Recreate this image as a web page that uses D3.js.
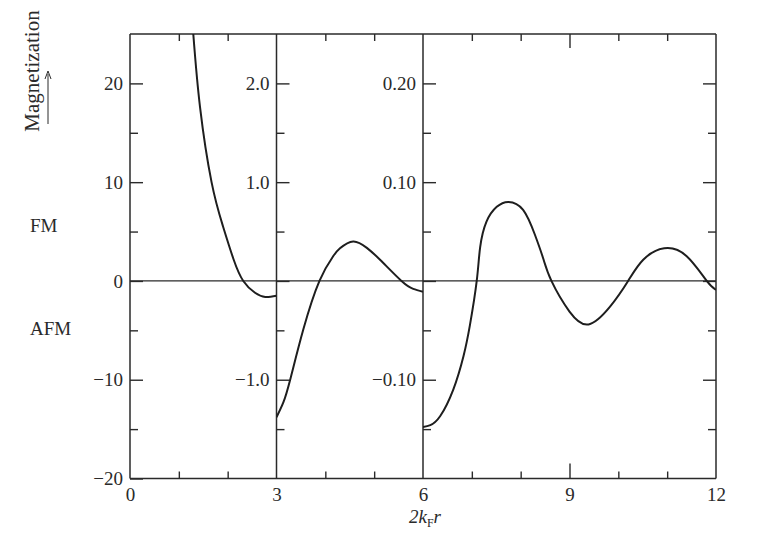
<!DOCTYPE html>
<html>
<head>
<meta charset="utf-8">
<script src="https://cdn.jsdelivr.net/npm/d3@7"></script>
<style>
  html, body { margin: 0; padding: 0; background: #fff; }
  svg { display: block; }
  text { font-family: "Liberation Serif", "Times New Roman", serif; fill: #2a2a2a; }
</style>
</head>
<body>
<svg id="chart" width="768" height="538"></svg>
<script>
// ---- data ----
// panel 1: 0 <= 2kFr <= 3, units of the left scale
const leftCurve = [[1.296, 25], [1.434, 17.6], [1.67, 10.0], [1.90, 5.6],
  [2.12, 2.2], [2.32, 0], [2.56, -1.2], [2.77, -1.62], [3.0, -1.49]];
// panel 2: 3 <= 2kFr <= 6, units of the middle scale
const midCurve = [[3.0, -1.38], [3.14, -1.23], [3.28, -1.0], [3.55, -0.49], [3.88, 0], [4.16, 0.25],
  [4.30, 0.33], [4.57, 0.40], [4.85, 0.335], [5.12, 0.215], [5.56, 0], [5.80, -0.08], [6.0, -0.11]];
// panel 3: 6 <= 2kFr <= 12, units of the right scale
const rightCurve = [[6.0, -0.148], [6.15, -0.146], [6.35, -0.137], [6.62, -0.110], [6.83, -0.076],
  [6.96, -0.045], [7.10, 0], [7.17, 0.034], [7.30, 0.060], [7.51, 0.075], [7.75, 0.080], [8.05, 0.072],
  [8.29, 0.047], [8.46, 0.023], [8.63, 0], [9.0, -0.031], [9.39, -0.044], [9.83, -0.026], [10.2, 0],
  [10.51, 0.0215], [10.94, 0.033], [11.4, 0.025], [11.81, 0], [12.0, -0.009]];

const xTickValues = [0, 3, 6, 9, 12];
const xTickLabels = ["0", "3", "6", "9", "12"];
const xMinorTicks = [1, 2, 4, 5, 7, 8, 10, 11];

const leftTickValues = [20, 10, 0, -10, -20];
const leftTickLabels = ["20", "10", "0", "\u221210", "\u221220"];
const leftMinor = [15, 5, -5, -15];

const midTickValues = [2.0, 1.0, 0, -1.0];
const midTickLabels = ["2.0", "1.0", "", "\u22121.0"];
const midMinor = [1.5, 0.5, -0.5, -1.5];

const rightTickValues = [0.20, 0.10, 0, -0.10];
const rightTickLabels = ["0.20", "0.10", "", "\u22120.10"];
const rightMinor = [0.15, 0.05, -0.05, -0.15];

const panelBreaks = [0, 3, 6, 12];

// ---- layout ----
const svg = d3.select("#chart");
const plotTop = 34, plotBottom = 478.5;
const x = d3.scaleLinear().domain([0, 12]).range([130, 716]);
const yLeft = d3.scaleLinear().domain([-20, 25]).range([plotBottom, plotTop]);
const yMid = d3.scaleLinear().domain([-2, 2.5]).range([plotBottom, plotTop]);
const yRight = d3.scaleLinear().domain([-0.2, 0.25]).range([plotBottom, plotTop]);

const ink = "#2a2a2a";
const majorLen = 13, minorLen = 8;

function styleAxis(g) {
  g.select(".domain").remove();
  g.selectAll(".tick line").attr("stroke", ink).attr("stroke-width", 1.4);
  g.selectAll(".tick text").attr("font-family", "Liberation Serif").attr("font-size", 19).attr("fill", ink);
}

// clip paths per panel
const defs = svg.append("defs");
[[0, 3], [3, 6], [6, 12]].forEach((p, i) => {
  defs.append("clipPath").attr("id", "clip" + i).append("rect")
    .attr("x", x(p[0])).attr("y", plotTop).attr("width", x(p[1]) - x(p[0])).attr("height", plotBottom - plotTop);
});

// y axes (ticks pointing inward, labels to the left)
const panels = [
  { x0: 0, y: yLeft, major: leftTickValues, labels: leftTickLabels, minor: leftMinor },
  { x0: 3, y: yMid, major: midTickValues, labels: midTickLabels, minor: midMinor },
  { x0: 6, y: yRight, major: rightTickValues, labels: rightTickLabels, minor: rightMinor }
];
panels.forEach(p => {
  svg.append("g").attr("transform", `translate(${x(p.x0)},0)`)
    .call(d3.axisLeft(p.y).tickValues(p.major).tickSize(-majorLen).tickPadding(7)
      .tickFormat((d, i) => p.labels[i]))
    .call(styleAxis);
  svg.append("g").attr("transform", `translate(${x(p.x0)},0)`)
    .call(d3.axisLeft(p.y).tickValues(p.minor).tickSize(-minorLen).tickFormat(""))
    .call(styleAxis);
});
// right edge ticks (pointing inward)
svg.append("g").attr("transform", `translate(${x(12)},0)`)
  .call(d3.axisRight(yRight).tickValues(rightTickValues).tickSize(-majorLen).tickFormat(""))
  .call(styleAxis);
svg.append("g").attr("transform", `translate(${x(12)},0)`)
  .call(d3.axisRight(yRight).tickValues(rightMinor).tickSize(-minorLen).tickFormat(""))
  .call(styleAxis);

// bottom axis labels + inward ticks
svg.append("g").attr("transform", `translate(0,${plotBottom})`)
  .call(d3.axisBottom(x).tickValues(xTickValues).tickSize(0).tickPadding(9)
    .tickFormat((d, i) => xTickLabels[i]))
  .call(styleAxis);
svg.append("g").attr("transform", `translate(0,${plotBottom})`)
  .call(d3.axisBottom(x).tickValues(xMinorTicks).tickSize(-7).tickFormat(""))
  .call(styleAxis);
svg.append("g").attr("transform", `translate(0,${plotBottom})`)
  .call(d3.axisBottom(x).tickValues([9]).tickSize(-15).tickFormat(""))
  .call(styleAxis);
// top inward ticks
svg.append("g").attr("transform", `translate(0,${plotTop})`)
  .call(d3.axisTop(x).tickValues(xMinorTicks).tickSize(-7).tickFormat(""))
  .call(styleAxis);
svg.append("g").attr("transform", `translate(0,${plotTop})`)
  .call(d3.axisTop(x).tickValues([9]).tickSize(-14).tickFormat(""))
  .call(styleAxis);

// frame
svg.append("line").attr("x1", x(0)).attr("x2", x(12)).attr("y1", plotTop).attr("y2", plotTop)
  .attr("stroke", ink).attr("stroke-width", 1.5);
svg.append("line").attr("x1", x(0)).attr("x2", x(12)).attr("y1", plotBottom).attr("y2", plotBottom)
  .attr("stroke", ink).attr("stroke-width", 1.5);
svg.selectAll(".vline").data(panelBreaks).enter().append("line")
  .attr("x1", d => x(d)).attr("x2", d => x(d)).attr("y1", plotTop).attr("y2", plotBottom)
  .attr("stroke", ink).attr("stroke-width", 1.5);
// zero line
svg.append("line").attr("x1", x(0)).attr("x2", x(12)).attr("y1", yLeft(0)).attr("y2", yLeft(0))
  .attr("stroke", ink).attr("stroke-width", 1.2);

// curves
[[leftCurve, yLeft], [midCurve, yMid], [rightCurve, yRight]].forEach((c, i) => {
  const line = d3.line().x(d => x(d[0])).y(d => c[1](d[1])).curve(d3.curveNatural);
  svg.append("path").datum(c[0]).attr("d", line).attr("fill", "none")
    .attr("stroke", "#1e1e1e").attr("stroke-width", 2).attr("clip-path", `url(#clip${i})`);
});

// texts
svg.append("text").attr("x", 30).attr("y", 232).attr("font-size", 19).text("FM");
svg.append("text").attr("x", 30).attr("y", 335).attr("font-size", 19).text("AFM");

svg.append("text").attr("transform", "translate(39,71) rotate(-90)")
  .attr("text-anchor", "middle").attr("font-size", 21).text("Magnetization");
svg.append("line").attr("x1", 48).attr("x2", 48).attr("y1", 124).attr("y2", 74)
  .attr("stroke", ink).attr("stroke-width", 1);
svg.append("path").attr("d", "M45,79 L48,71 L51,79").attr("fill", "none").attr("stroke", ink).attr("stroke-width", 1);

const xt = svg.append("text").attr("x", 425).attr("y", 523).attr("text-anchor", "middle")
  .attr("font-size", 19).attr("font-style", "italic");
xt.append("tspan").text("2k");
xt.append("tspan").attr("font-size", 12).attr("dy", 4).attr("font-style", "normal").text("F");
xt.append("tspan").attr("dy", -4).text("r");
</script>
</body>
</html>
